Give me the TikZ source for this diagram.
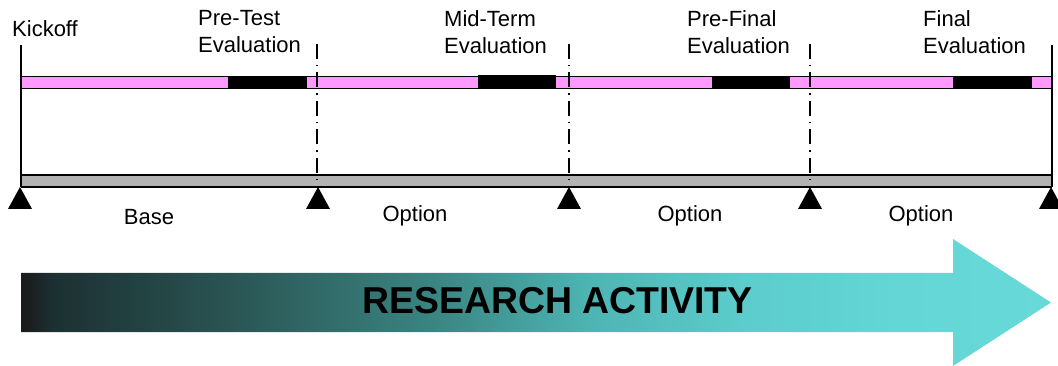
\documentclass[tikz,border=0pt]{standalone}
\usepackage{fontspec}
\setmainfont{Liberation Sans}
\definecolor{pinkbar}{HTML}{FF99FF}
\definecolor{graybar}{HTML}{B2B2B2}
\definecolor{sa}{HTML}{1A1A1A}
\definecolor{sb}{HTML}{1B1F20}
\definecolor{sc}{HTML}{1C3032}
\definecolor{sd}{HTML}{2A5452}
\definecolor{se}{HTML}{3A8582}
\definecolor{sf}{HTML}{4DB4B2}
\definecolor{sg}{HTML}{5CCCCC}
\definecolor{sh}{HTML}{64D6D6}
\definecolor{si}{HTML}{67D9D9}
\pgfdeclarehorizontalshading{researchshade}{100bp}{color(0bp)=(sa); color(25bp)=(sa); color(25.5bp)=(sb); color(26.5bp)=(sc); color(35bp)=(sd); color(45bp)=(se); color(52.5bp)=(sf); color(60bp)=(sg); color(67.5bp)=(sh); color(75bp)=(si); color(100bp)=(si)}
\tikzset{
  toplbl/.style={font=\fontsize{22}{27}\selectfont, inner sep=0pt, align=left, anchor=north west},
  botlbl/.style={font=\fontsize{22}{25}\selectfont, inner sep=0pt, anchor=base},
  evalblock/.style={fill=black},
  milestone/.style={line width=1.8pt},
  gate/.style={line width=1.4pt, dash pattern=on 15pt off 6pt on 1.5pt off 6pt},
  marker/.style={fill=black},
}
\begin{document}
\begin{tikzpicture}[x=1pt,y=-1pt]
\useasboundingbox (0,0) rectangle (1058,366);
% milestone coordinates
\coordinate (t0) at (21,45);   \coordinate (b0) at (21,187);
\coordinate (t1) at (317,44);  \coordinate (b1) at (317,186);
\coordinate (t2) at (569,44);  \coordinate (b2) at (569,186);
\coordinate (t3) at (810,44);  \coordinate (b3) at (810,186);
\coordinate (t4) at (1052,45); \coordinate (b4) at (1052,187);
% pink schedule bar
\path[fill=pinkbar] (21,76.5) rectangle (1052,88.5);
\path[evalblock] (228,75.8) rectangle (307,89.2);
\path[evalblock] (478,75) rectangle (556,89.2);
\path[evalblock] (712,75.8) rectangle (790,89.2);
\path[evalblock] (953,75.8) rectangle (1032,89.2);
\draw[line width=1.3pt] (21,76.5) -- (1052,76.5);
\draw[line width=1.3pt] (21,88.5) -- (1052,88.5);
% gray contract bar
\path[fill=graybar] (21,175) rectangle (1052,187);
\draw[line width=1.3pt] (21,175) -- (1052,175);
\draw[line width=1.3pt] (21,187) -- (1052,187);
% vertical lines
\draw[milestone] (t0) -- (b0);
\draw[milestone] (t4) -- (b4);
\draw[gate] (t1) -- (b1);
\draw[gate] (t2) -- (b2);
\draw[gate] (t3) -- (b3);
% triangles
\foreach \c in {20,318,569,810,1051}{
  \path[marker] (\c,187) -- (\c+12,209) -- (\c-12,209) -- cycle;
}
% labels
\node[anchor=base west, inner sep=0pt, font=\fontsize{22}{27}\selectfont] (kick) at (12,37) {Kickoff};
\node[toplbl] (pretest) at (198,10) {Pre-Test\\Evaluation};
\node[toplbl] (midterm) at (444,10) {Mid-Term\\Evaluation};
\node[toplbl] (prefinal) at (687,10) {Pre-Final\\Evaluation};
\node[toplbl] (final) at (923,10) {Final\\Evaluation};
\node[botlbl] (base) at (149,225) {Base};
\node[botlbl] (opt1) at (415,222) {Option};
\node[botlbl] (opt2) at (690,222) {Option};
\node[botlbl] (opt3) at (921,222) {Option};
% research activity arrow
\path[shading=researchshade] (21,273) -- (953,273) -- (953,239) -- (1051,302.5) -- (953,366) -- (953,332) -- (21,332) -- cycle;
\node[font=\fontsize{37.4}{40}\selectfont\bfseries, inner sep=0pt, anchor=base] (ra) at (557.5,313) {RESEARCH ACTIVITY};
\end{tikzpicture}
\end{document}
